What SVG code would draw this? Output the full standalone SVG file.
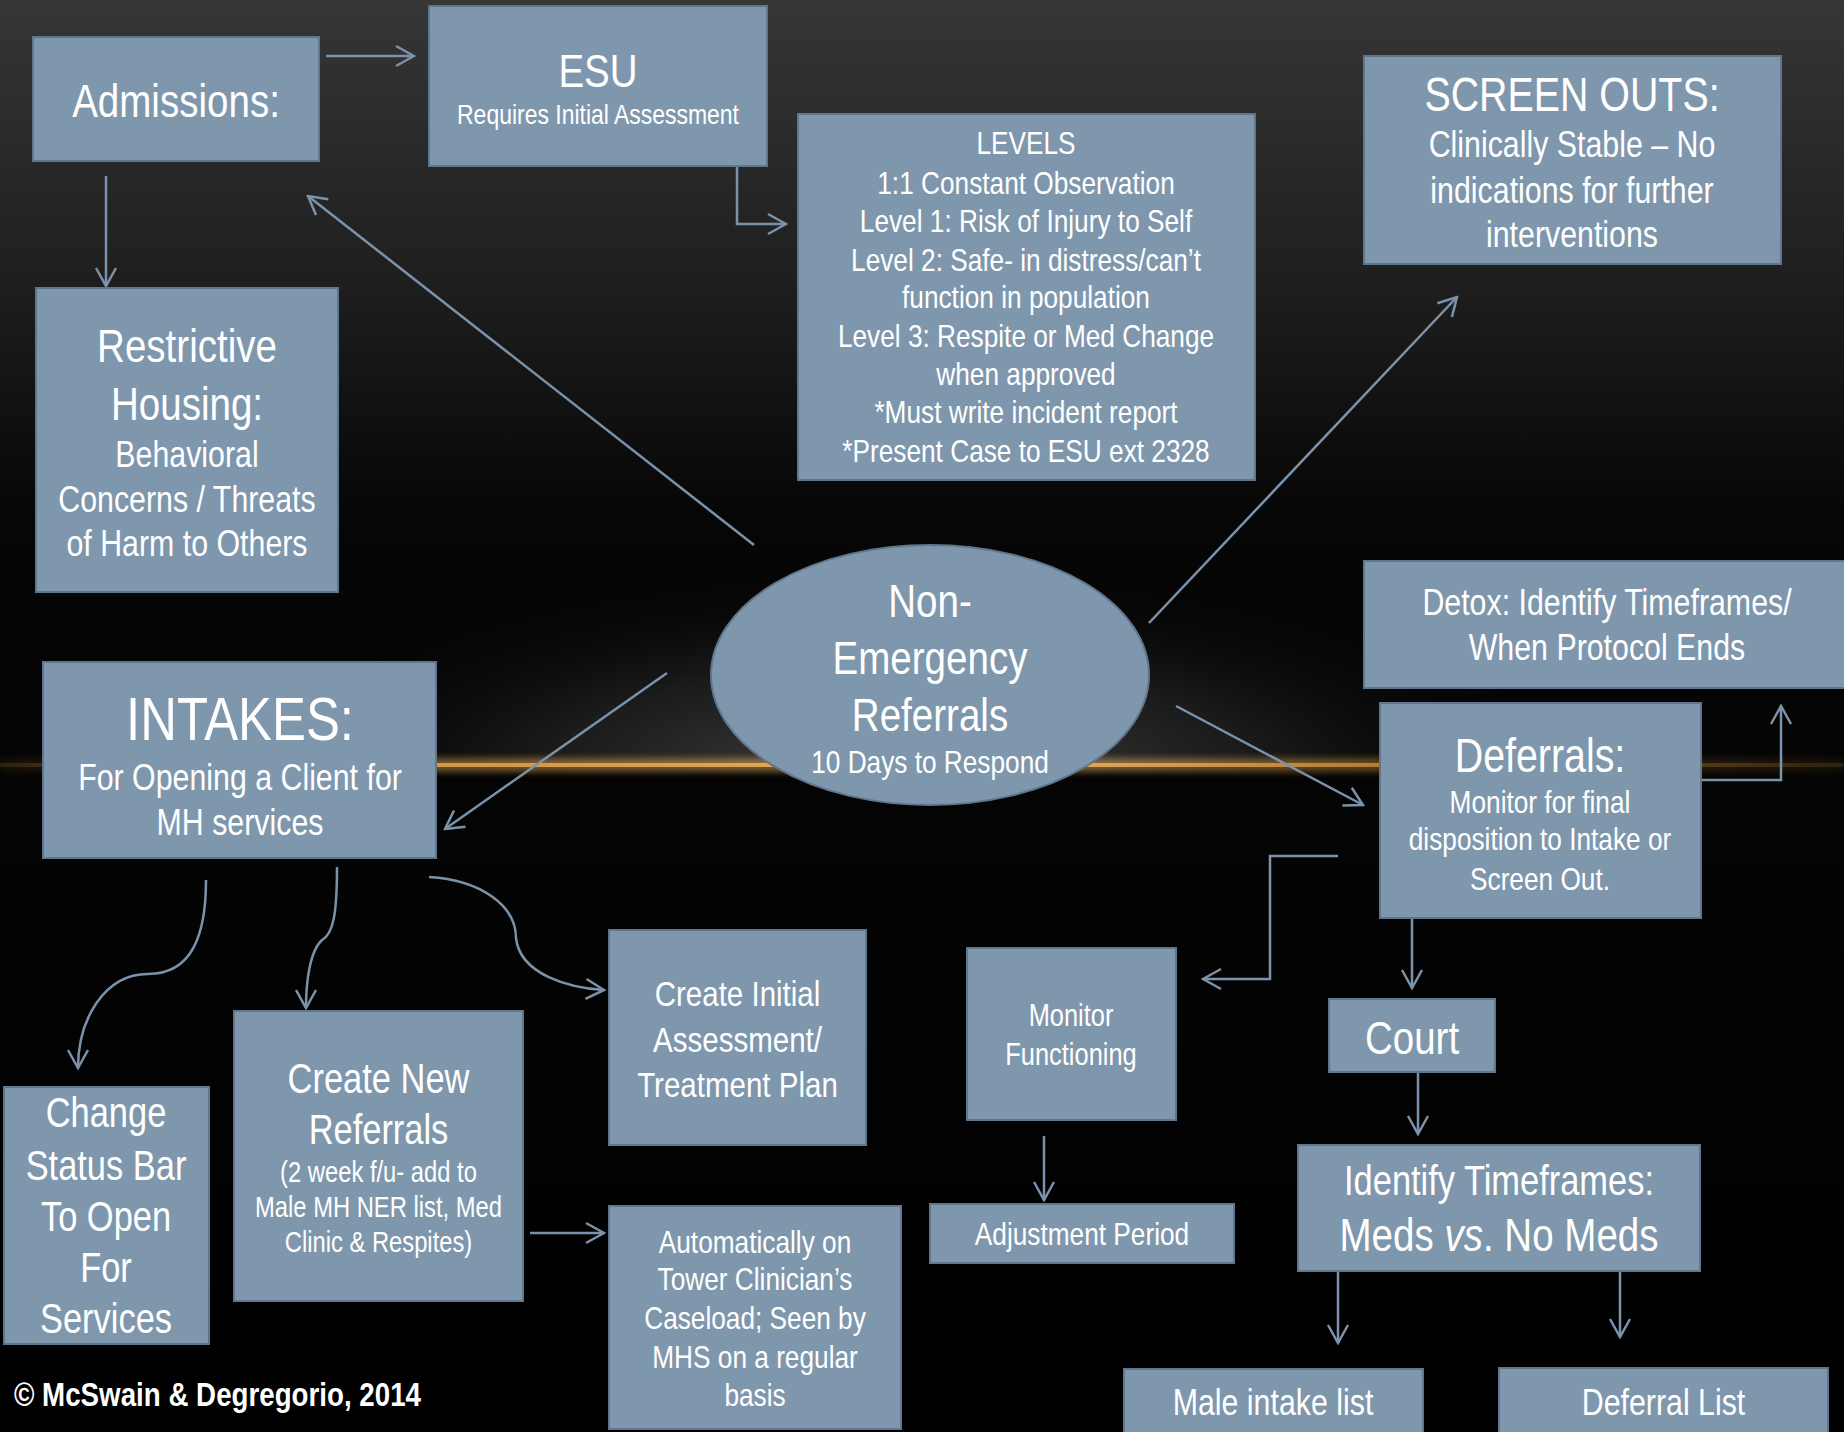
<svg xmlns="http://www.w3.org/2000/svg" width="1844" height="1432" viewBox="0 0 1844 1432">
<defs>
<linearGradient id="bg" x1="0" y1="0" x2="0" y2="1">
<stop offset="0" stop-color="#363636"/>
<stop offset="0.2" stop-color="#1e1e1e"/>
<stop offset="0.36" stop-color="#060606"/>
<stop offset="1" stop-color="#000"/>
</linearGradient>
<radialGradient id="glow" gradientUnits="userSpaceOnUse" cx="900" cy="770" r="700" gradientTransform="translate(900 770) scale(1 0.3) translate(-900 -770)">
<stop offset="0" stop-color="#4a4a4a" stop-opacity="0.9"/>
<stop offset="0.5" stop-color="#2a2a2a" stop-opacity="0.6"/>
<stop offset="1" stop-color="#000" stop-opacity="0"/>
</radialGradient>
<linearGradient id="flare" x1="0" y1="0" x2="1" y2="0">
<stop offset="0" stop-color="#7a5520" stop-opacity="0.25"/>
<stop offset="0.2" stop-color="#d99a45" stop-opacity="0.9"/>
<stop offset="0.55" stop-color="#e8b060" stop-opacity="1"/>
<stop offset="0.75" stop-color="#c98a3a" stop-opacity="0.8"/>
<stop offset="1" stop-color="#7a5520" stop-opacity="0.25"/>
</linearGradient>
<filter id="blur" x="-5%" y="-200%" width="110%" height="500%"><feGaussianBlur stdDeviation="3"/></filter>
<marker id="ah" viewBox="0 0 22 24" refX="20" refY="12" markerWidth="22" markerHeight="24" markerUnits="userSpaceOnUse" orient="auto">
<path d="M2,2 L20,12 L2,22" fill="none" stroke="#7b93aa" stroke-width="2.5"/>
</marker>
</defs>
<style>
.box{fill:#7f97ad;stroke:#5f768c;stroke-width:2}
text{font-family:"Liberation Sans Narrow","Arial Narrow","Liberation Sans",Arial,sans-serif;fill:#ffffff;text-anchor:middle}
.c{fill:none;stroke:#7b93aa;stroke-width:2.5;marker-end:url(#ah)}
</style>
<rect x="0" y="0" width="1844" height="1432" fill="url(#bg)"/>
<rect x="0" y="540" width="1844" height="225" fill="url(#glow)"/>
<rect x="0" y="758" width="1844" height="14" fill="url(#flare)" opacity="0.55" filter="url(#blur)"/>
<rect x="0" y="763" width="1844" height="4" fill="url(#flare)"/>

<g id="connectors">
<path class="c" d="M326,56 L414,56"/>
<path class="c" d="M106,176 L106,286"/>
<path class="c" d="M737,166 L737,224 L786,224"/>
<path class="c" d="M754,545 L308,196"/>
<path class="c" d="M1149,623 L1457,297"/>
<path class="c" d="M667,673 L445,829"/>
<path class="c" d="M1176,706 L1363,805"/>
<path class="c" d="M1701,780 L1781,780 L1781,706"/>
<path class="c" d="M1338,856 L1270,856 L1270,979 L1203,979"/>
<path class="c" d="M1412,918 L1412,988"/>
<path class="c" d="M1418,1072 L1418,1134"/>
<path class="c" d="M1338,1271 L1338,1343"/>
<path class="c" d="M1620,1271 L1620,1337"/>
<path class="c" d="M1044,1136 L1044,1200"/>
<path class="c" d="M206,880 C206,935 192,974 148,974 C104,974 78,1020 78,1068"/>
<path class="c" d="M337,867 C337,915 333,934 322,940 C309,952 306,985 306,1008"/>
<path class="c" d="M429,877 C480,880 516,905 516,938 C520,975 570,988 604,990"/>
<path class="c" d="M530,1233 L604,1233"/>
</g>

<g id="admissions">
<rect class="box" x="33" y="37" width="286" height="124"/>
<g transform="translate(176,0) scale(0.82,1)">
<text x="0" y="117" font-size="47">Admissions:</text>
</g>
</g>
<g id="esu">
<rect class="box" x="429" y="6" width="338" height="160"/>
<g transform="translate(598,0) scale(0.82,1)">
<text x="0" y="87" font-size="47">ESU</text>
<text x="0" y="124" font-size="28">Requires Initial Assessment</text>
</g>
</g>
<g id="levels">
<rect class="box" x="798" y="114" width="457" height="366"/>
<g transform="translate(1026,0) scale(0.82,1)" font-size="32">
<text x="0" y="154">LEVELS</text>
<text x="0" y="194">1:1 Constant Observation</text>
<text x="0" y="232">Level 1: Risk of Injury to Self</text>
<text x="0" y="271">Level 2: Safe- in distress/can’t</text>
<text x="0" y="308">function in population</text>
<text x="0" y="347">Level 3: Respite or Med Change</text>
<text x="0" y="385">when approved</text>
<text x="0" y="423">*Must write incident report</text>
<text x="0" y="462">*Present Case to ESU ext 2328</text>
</g>
</g>
<g id="screen-outs">
<rect class="box" x="1364" y="56" width="417" height="208"/>
<g transform="translate(1572,0) scale(0.82,1)">
<text x="0" y="111" font-size="48">SCREEN OUTS:</text>
<text x="0" y="157" font-size="37">Clinically Stable – No</text>
<text x="0" y="203" font-size="37">indications for further</text>
<text x="0" y="247" font-size="37">interventions</text>
</g>
</g>
<g id="restrictive-housing">
<rect class="box" x="36" y="288" width="302" height="304"/>
<g transform="translate(187,0) scale(0.82,1)">
<text x="0" y="362" font-size="47">Restrictive</text>
<text x="0" y="420" font-size="47">Housing:</text>
<text x="0" y="467" font-size="37">Behavioral</text>
<text x="0" y="512" font-size="37">Concerns / Threats</text>
<text x="0" y="556" font-size="37">of Harm to Others</text>
</g>
</g>
<g id="non-emergency-referrals">
<ellipse cx="930" cy="675" rx="219" ry="130" fill="#7f97ad" stroke="#5f768c" stroke-width="2"/>
<g transform="translate(930,0) scale(0.82,1)">
<text x="0" y="617" font-size="47">Non-</text>
<text x="0" y="674" font-size="47">Emergency</text>
<text x="0" y="731" font-size="47">Referrals</text>
<text x="0" y="773" font-size="32">10 Days to Respond</text>
</g>
</g>
<g id="intakes">
<rect class="box" x="43" y="662" width="393" height="196"/>
<g transform="translate(240,0) scale(0.82,1)">
<text x="0" y="740" font-size="62">INTAKES:</text>
<text x="0" y="790" font-size="37">For Opening a Client for</text>
<text x="0" y="835" font-size="37">MH services</text>
</g>
</g>
<g id="detox">
<rect class="box" x="1364" y="561" width="490" height="127"/>
<g transform="translate(1607,0) scale(0.82,1)">
<text x="0" y="615" font-size="37">Detox: Identify Timeframes/</text>
<text x="0" y="660" font-size="37">When Protocol Ends</text>
</g>
</g>
<g id="deferrals">
<rect class="box" x="1380" y="703" width="321" height="215"/>
<g transform="translate(1540,0) scale(0.82,1)">
<text x="0" y="772" font-size="48">Deferrals:</text>
<text x="0" y="813" font-size="32">Monitor for final</text>
<text x="0" y="850" font-size="32">disposition to Intake or</text>
<text x="0" y="890" font-size="32">Screen Out.</text>
</g>
</g>
<g id="create-initial-assessment">
<rect class="box" x="609" y="930" width="257" height="215"/>
<g transform="translate(737.5,0) scale(0.82,1)">
<text x="0" y="1006" font-size="36">Create Initial</text>
<text x="0" y="1052" font-size="36">Assessment/</text>
<text x="0" y="1097" font-size="36">Treatment Plan</text>
</g>
</g>
<g id="monitor-functioning">
<rect class="box" x="967" y="948" width="209" height="172"/>
<g transform="translate(1071,0) scale(0.82,1)">
<text x="0" y="1026" font-size="31">Monitor</text>
<text x="0" y="1065" font-size="31">Functioning</text>
</g>
</g>
<g id="adjustment-period">
<rect class="box" x="930" y="1204" width="304" height="59"/>
<g transform="translate(1082,0) scale(0.82,1)">
<text x="0" y="1245" font-size="32">Adjustment Period</text>
</g>
</g>
<g id="automatically">
<rect class="box" x="609" y="1206" width="292" height="223"/>
<g transform="translate(755,0) scale(0.82,1)" font-size="32">
<text x="0" y="1253">Automatically on</text>
<text x="0" y="1290">Tower Clinician’s</text>
<text x="0" y="1329">Caseload; Seen by</text>
<text x="0" y="1368">MHS on a regular</text>
<text x="0" y="1406">basis</text>
</g>
</g>
<g id="change-status-bar">
<rect class="box" x="4" y="1087" width="205" height="257"/>
<g transform="translate(106,0) scale(0.82,1)" font-size="42">
<text x="0" y="1127">Change</text>
<text x="0" y="1180">Status Bar</text>
<text x="0" y="1231">To Open</text>
<text x="0" y="1282">For</text>
<text x="0" y="1333">Services</text>
</g>
</g>
<g id="create-new-referrals">
<rect class="box" x="234" y="1011" width="289" height="290"/>
<g transform="translate(378.5,0) scale(0.82,1)">
<text x="0" y="1093" font-size="42">Create New</text>
<text x="0" y="1144" font-size="42">Referrals</text>
<text x="0" y="1182" font-size="29">(2 week f/u- add to</text>
<text x="0" y="1217" font-size="29">Male MH NER list, Med</text>
<text x="0" y="1252" font-size="29">Clinic &amp; Respites)</text>
</g>
</g>
<g id="court">
<rect class="box" x="1329" y="999" width="166" height="73"/>
<g transform="translate(1412,0) scale(0.82,1)">
<text x="0" y="1054" font-size="47">Court</text>
</g>
</g>
<g id="identify-timeframes">
<rect class="box" x="1298" y="1145" width="402" height="126"/>
<g transform="translate(1499,0) scale(0.82,1)">
<text x="0" y="1195" font-size="42">Identify Timeframes:</text>
<text x="0" y="1251" font-size="47">Meds <tspan font-style="italic">vs</tspan>. No Meds</text>
</g>
</g>
<g id="male-intake-list">
<rect class="box" x="1124" y="1369" width="299" height="75"/>
<g transform="translate(1273,0) scale(0.82,1)">
<text x="0" y="1415" font-size="37">Male intake list</text>
</g>
</g>
<g id="deferral-list">
<rect class="box" x="1499" y="1368" width="329" height="76"/>
<g transform="translate(1663.5,0) scale(0.82,1)">
<text x="0" y="1415" font-size="37">Deferral List</text>
</g>
</g>
<g id="copyright" transform="translate(14,0) scale(0.84,1)">
<text x="0" y="1406" font-size="33" font-weight="bold" style="text-anchor:start">© McSwain &amp; Degregorio, 2014</text>
</g>
</svg>
